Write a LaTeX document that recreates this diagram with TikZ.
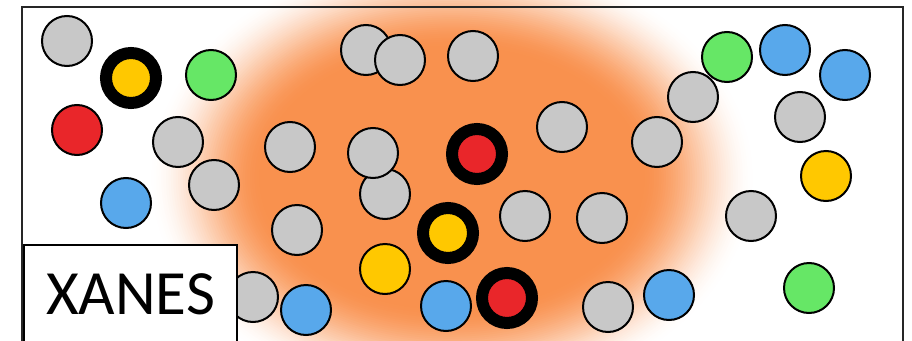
\documentclass[tikz,border=0pt]{standalone}
\usepackage{fontspec}
\setsansfont{Carlito}
\usepackage{xcolor}
\usepackage{tikz}

\definecolor{ballgray}{RGB}{200,200,200}
\definecolor{ballred}{RGB}{233,38,42}
\definecolor{ballgreen}{RGB}{102,231,102}
\definecolor{ballblue}{RGB}{88,168,235}
\definecolor{ballyellow}{RGB}{255,200,0}
\definecolor{gloworange}{RGB}{249,145,78}

\begin{document}
\begin{tikzpicture}[
      x=1pt, y=-1pt,
      ball/.style={circle, draw=black, line width=2pt, minimum size=50pt, inner sep=0pt},
      ringed/.style={circle, draw=black, line width=12pt, minimum size=50pt, inner sep=0pt},
      label box/.style={draw, line width=2pt, fill=white, anchor=north west, minimum width=213pt, minimum height=98pt, font=\sffamily\fontsize{63}{70}\selectfont}
    ]
    \useasboundingbox (0,0) rectangle (912,340);
    % orange glow, built up from white rim to orange core
    \begin{scope}
      \clip (0,0) rectangle (912,340);
      \foreach \k in {0,...,48} {
        \pgfmathsetmacro\t{\k/48}
        \pgfmathsetmacro\p{100*\t*\t*(3-2*\t)}
        \fill[gloworange!\p!white] (452,178) ellipse [x radius={(305-115*\t)*1pt}, y radius={(228-98*\t)*1pt}];
      }
    \end{scope}
    % frame
    \draw[line width=1.5pt, black!85] (22,341) -- (22,7) -- (903,7) -- (903,341);
    % left side
    \node[ball, fill=ballgray] (gray1) at (67,41) {};
    \node[ringed, fill=ballyellow] (ring1) at (131,78) {};
    \node[ball, fill=ballgreen] (green1) at (211,75) {};
    \node[ball, fill=ballred] (red1) at (77,130) {};
    \node[ball, fill=ballgray] (gray2) at (178,142) {};
    \node[ball, fill=ballgray] (gray3) at (214,185) {};
    \node[ball, fill=ballblue] (blue1) at (126,203) {};
    % centre
    \node[ball, fill=ballgray] (gray4) at (366,50) {};
    \node[ball, fill=ballgray] (gray5) at (400,60) {};
    \node[ball, fill=ballgray] (gray6) at (473,56) {};
    \node[ball, fill=ballgray] (gray7) at (290,147) {};
    \node[ball, fill=ballgray] (gray8) at (385,194) {};
    \node[ball, fill=ballgray] (gray9) at (373,153) {};
    \node[ringed, fill=ballred] (ring2) at (477,154) {};
    \node[ball, fill=ballgray] (gray10) at (297,230) {};
    \node[ball, fill=ballyellow] (yellow1) at (385,269) {};
    \node[ringed, fill=ballyellow] (ring3) at (448,233) {};
    \node[ball, fill=ballgray] (gray11) at (525,216) {};
    \node[ball, fill=ballgray] (gray12) at (602,218) {};
    \node[ball, fill=ballgray] (gray13) at (562,127) {};
    \node[ball, fill=ballgray] (gray14) at (253,297) {};
    \node[ball, fill=ballblue] (blue2) at (306,310) {};
    \node[ball, fill=ballblue] (blue3) at (446,306) {};
    \node[ringed, fill=ballred] (ring4) at (507,298) {};
    \node[ball, fill=ballgray] (gray15) at (608,307) {};
    \node[ball, fill=ballblue] (blue4) at (669,295) {};
    % right side
    \node[ball, fill=ballgray] (gray16) at (657,142) {};
    \node[ball, fill=ballgray] (gray17) at (693,97) {};
    \node[ball, fill=ballgreen] (green2) at (727,57) {};
    \node[ball, fill=ballblue] (blue5) at (785,50) {};
    \node[ball, fill=ballblue] (blue6) at (845,75) {};
    \node[ball, fill=ballgray] (gray18) at (800,117) {};
    \node[ball, fill=ballyellow] (yellow2) at (826,176) {};
    \node[ball, fill=ballgray] (gray19) at (751,216) {};
    \node[ball, fill=ballgreen] (green3) at (809,288) {};
    % label
    \node[label box] (xanes) at (23,244) {XANES};
  \end{tikzpicture}
\end{document}
